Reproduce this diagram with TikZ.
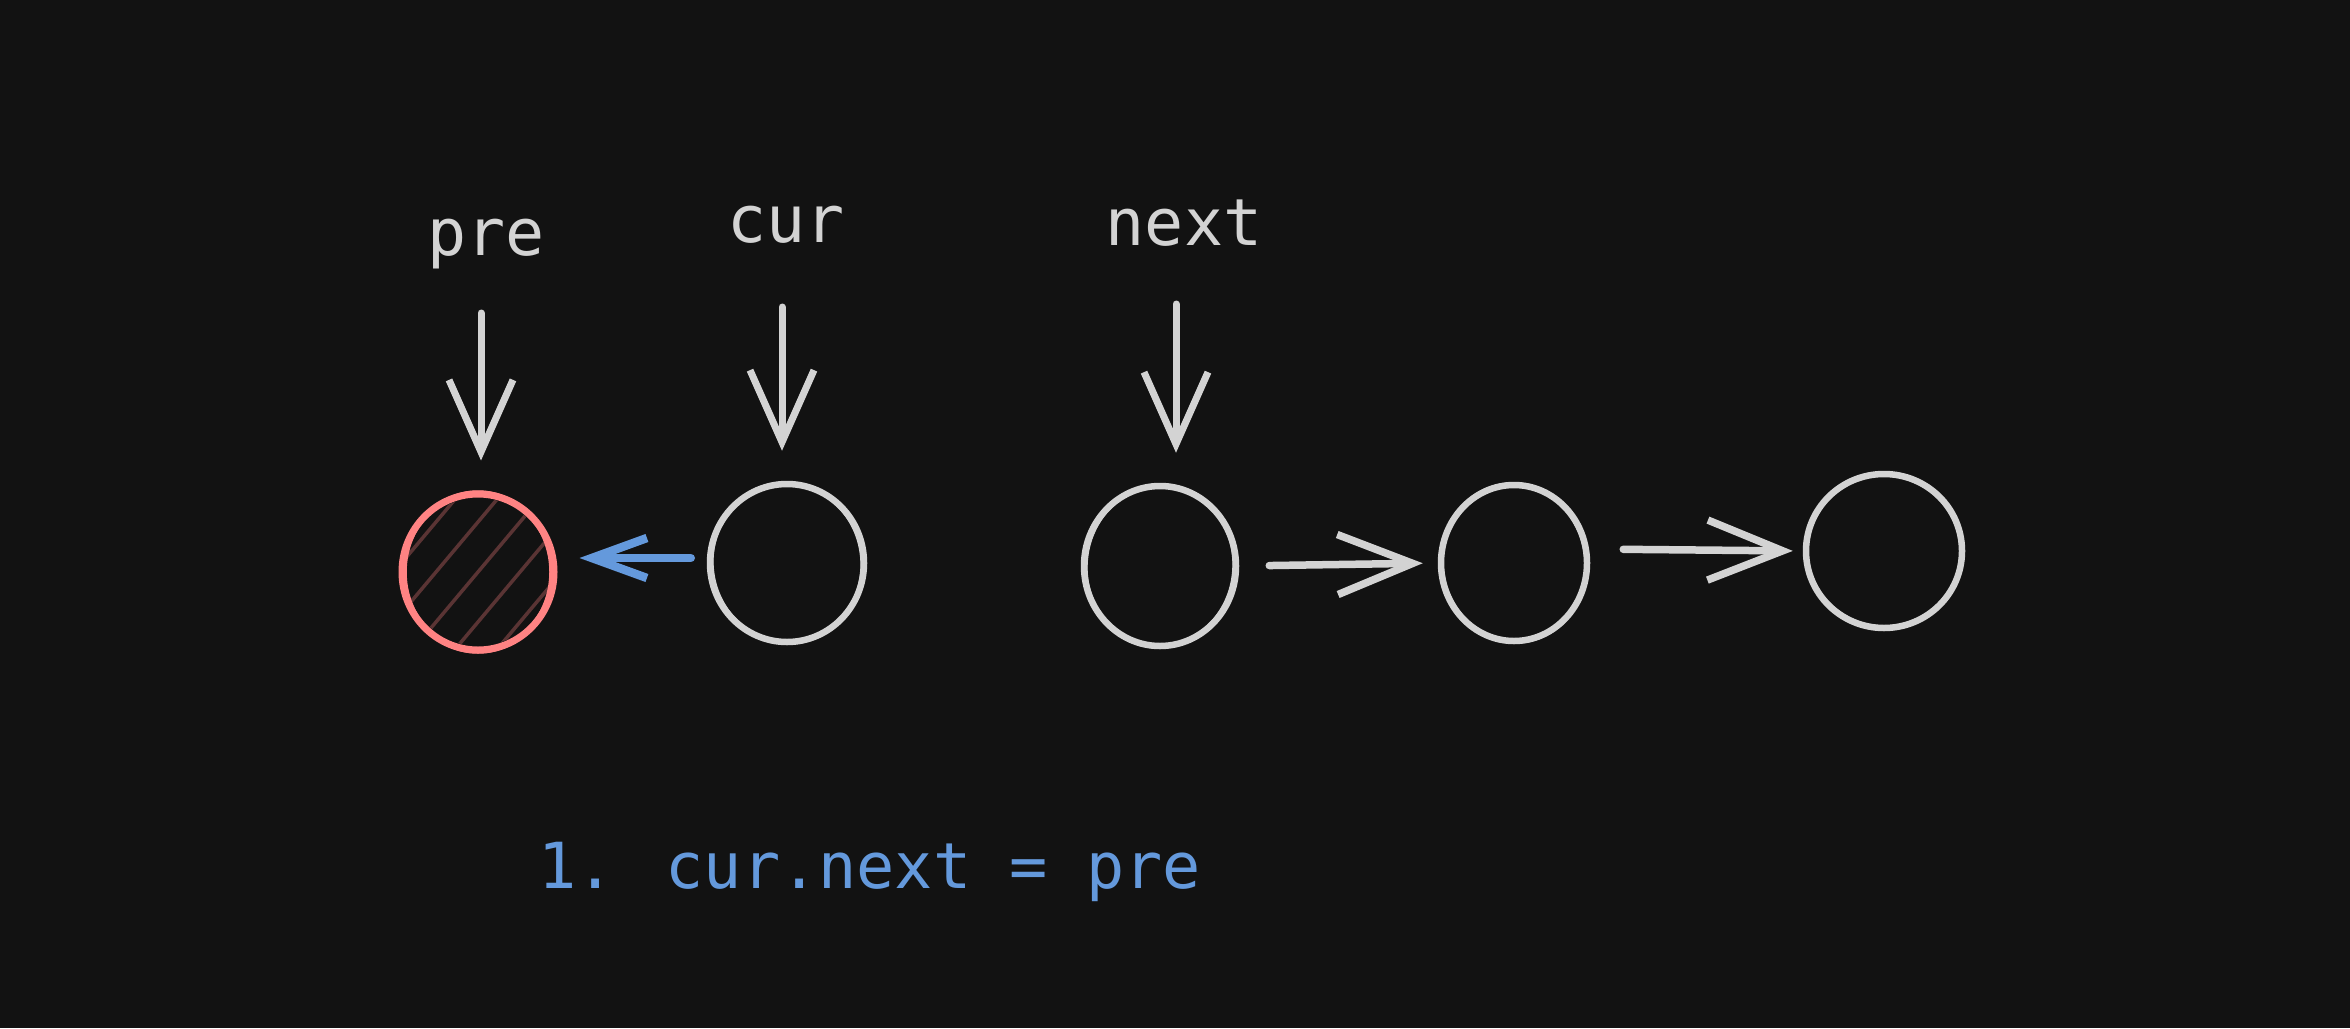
\documentclass[tikz,border=0pt]{standalone}
\usepackage{fontspec}
\newfontfamily\codefont{DejaVu Sans Mono}
\newfontfamily\labelfont{DejaVu Sans Mono}
\usetikzlibrary{arrows.meta,shapes.geometric,calc}
\definecolor{bg}{HTML}{121212}
\definecolor{ink}{HTML}{D3D3D3}
\definecolor{redink}{HTML}{FF8383}
\definecolor{blueink}{HTML}{6499DC}
\definecolor{hatchink}{HTML}{5A3434}
\tikzset{
  listnode/.style={ellipse, draw=ink, line width=6.5pt, inner sep=0pt},
  prenode/.style={ellipse, draw=redink, line width=7pt, inner sep=0pt},
  sketch/.style={line width=3.5pt},
  lbl/.style={text=ink, font=\labelfont\fontsize{65pt}{72pt}\selectfont, anchor=base, inner sep=0pt},
  codetxt/.style={text=blueink, font=\codefont\fontsize{63.5pt}{70pt}\selectfont, anchor=base west, inner sep=0pt},
  ptr/.style={draw=ink, line width=7pt, line cap=round, line join=round,
    -{Straight Barb[length=72pt, width=64pt, line width=7pt]}},
  link/.style={draw=ink, line width=7.5pt, line cap=round, line join=round,
    -{Straight Barb[length=75pt, width=60pt, line width=7.5pt]}},
  bluelink/.style={draw=blueink, line width=8.5pt, line cap=round, line join=round,
    -{Straight Barb[length=55pt, width=40pt, line width=8.5pt]}}
}
\begin{document}
\begin{tikzpicture}[x=1pt,y=-1pt]
\fill[bg] (0,0) rectangle (2350,1028);
\useasboundingbox (0,0) rectangle (2350,1028);

% list nodes
\node[prenode, minimum width=152pt, minimum height=156pt] (n1) at (478,572) {};
\node[listnode, minimum width=154pt, minimum height=158pt] (n2) at (787,563) {};
\node[listnode, minimum width=152pt, minimum height=160pt] (n3) at (1160,566) {};
\node[listnode, minimum width=146pt, minimum height=156pt] (n4) at (1514,563) {};
\node[listnode, minimum width=156pt, minimum height=154pt] (n5) at (1884,551) {};

% hatching inside pre node
\begin{scope}
  \clip (n1.center) ellipse [x radius=72pt, y radius=74pt];
  \foreach \k in {-4,...,4} {
    \draw[hatchink, line width=3.5pt, line cap=round]
      ($(n1.center)+(\k*42-105,125)$) -- ($(n1.center)+(\k*42+105,-125)$);
  }
\end{scope}
\draw[redink, sketch] (n1.center) ellipse [x radius=73pt, y radius=80pt];

% sketchy second strokes
\draw[ink, sketch, rotate around={8:(n2.center)}] (n2.center) ellipse [x radius=75pt, y radius=80pt];
\draw[ink, sketch, rotate around={-6:(n3.center)}] (n3.center) ellipse [x radius=74pt, y radius=81pt];
\draw[ink, sketch, rotate around={7:(n4.center)}] (n4.center) ellipse [x radius=72pt, y radius=79pt];
\draw[ink, sketch, rotate around={-5:(n5.center)}] (n5.center) ellipse [x radius=77pt, y radius=76pt];

% pointer labels
\node[lbl] (lpre) at (486,255) {pre};
\node[lbl] (lcur) at (786,242) {cur};
\node[lbl] (lnext) at (1184,245) {next};

\coordinate (ppre) at (481,313);
\coordinate (pcur) at (782,307);
\coordinate (pnext) at (1176,304);

\draw[ptr, shorten >=30pt] (ppre) -- (ppre |- n1.north);
\draw[ptr, shorten >=30pt] (pcur) -- (pcur |- n2.north);
\draw[ptr, shorten >=30pt] (pnext) -- (pnext |- n3.north);

% links
\draw[bluelink, shorten <=16pt, shorten >=22pt] ($(n2.west)+(0,-5)$) -- ($(n1.east)+(0,-14)$);
\draw[link, shorten <=30pt, shorten >=15pt] (n3.east) -- (n4.west);
\draw[link, shorten <=33pt, shorten >=10pt] ($(n4.east)+(0,-14)$) -- (n5.west);

% caption
\node[codetxt] (cap) at (538,888) {1. cur.next = pre};
\end{tikzpicture}
\end{document}
